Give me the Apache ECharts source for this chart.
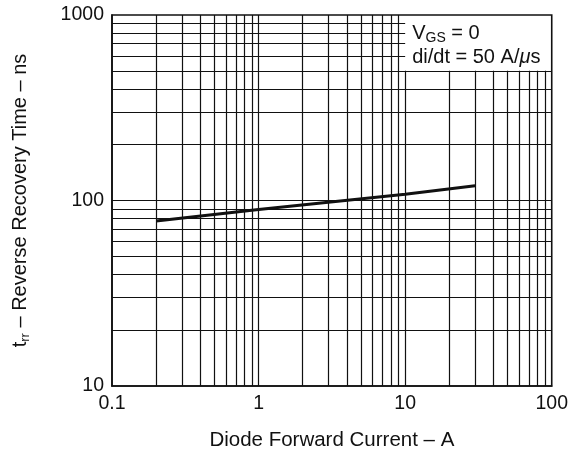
<!DOCTYPE html>
<html>
<head>
<meta charset="utf-8">
<script src="https://cdn.jsdelivr.net/npm/echarts@6/dist/echarts.min.js"></script>
<style>
html,body{margin:0;padding:0;background:#fff;}
#c{width:571px;height:456px;}
</style>
</head>
<body>
<div id="c"></div>
<script>
// Data (log-log)
var currentA = [0.2, 1, 10, 30];
var trrNs = [77.5, 89.5, 108, 120];
var xTickLabels = ['0.1', '1', '10', '100'];
var yTickLabels = ['10', '100', '1000'];
// Minor grid positions (log decades)
var xGridLow = [0.2,0.3,0.4,0.5,0.6,0.7,0.8,0.9,1,2,3,4,5,6,7,8,9];
var xGridHigh = [10,20,30,40,50,60,70,80,90];
var yGridFull = [20,30,40,50,60,70,80,90,100,200,300,400,500];
var yGridShort = [600,700,800,900];
// Condition note anchored at (10 A, 1000 ns)
var noteAnchor = [10, 1000];

var FONT = 'Liberation Sans, Arial, Helvetica, sans-serif';
var gridStyle = {color:'#111', width:1.2, type:'solid'};

var lines = [];
xGridLow.forEach(function(v){ lines.push([{coord:[v,10]},{coord:[v,1000]}]); });
xGridHigh.forEach(function(v){ lines.push([{coord:[v,10]},{coord:[v,500]}]); });
yGridFull.forEach(function(v){ lines.push([{coord:[0.1,v]},{coord:[100,v]}]); });
yGridShort.forEach(function(v){ lines.push([{coord:[0.1,v]},{coord:[10,v]}]); });

var chart = echarts.init(document.getElementById('c'), null, {renderer:'canvas'});
chart.setOption({
  backgroundColor:'#fff',
  animation:false,
  grid:{left:110, right:17, top:15, bottom:70, show:true, borderColor:'#111', borderWidth:1.6, backgroundColor:'transparent'},
  xAxis:{
    type:'log', logBase:10, min:0.1, max:100,
    name:'Diode Forward Current \u2013 A', nameLocation:'middle', nameGap:44,
    nameTextStyle:{fontFamily:FONT, fontSize:20.5, color:'#111'},
    axisLine:{show:true, lineStyle:{color:'#111', width:1.6}},
    axisTick:{show:false},
    splitLine:{show:false},
    axisLabel:{fontFamily:FONT, fontSize:19.5, color:'#111', margin:8,
      formatter:function(v){ var s = String(+v.toPrecision(3)); return xTickLabels.indexOf(s) >= 0 ? s : ''; }}
  },
  yAxis:{
    type:'log', logBase:10, min:10, max:1000,
    name:'t{sub|rr} \u2013 Reverse Recovery Time \u2013 ns', nameLocation:'middle', nameGap:80,
    nameTextStyle:{fontFamily:FONT, fontSize:20, color:'#111', lineHeight:24,
      rich:{sub:{fontFamily:FONT, fontSize:13, color:'#111', verticalAlign:'bottom', lineHeight:24}}},
    axisLine:{show:true, lineStyle:{color:'#111', width:1.6}},
    axisTick:{show:false},
    splitLine:{show:false},
    axisLabel:{fontFamily:FONT, fontSize:19.5, color:'#111', margin:8,
      formatter:function(v){ var s = String(+v.toPrecision(3)); return yTickLabels.indexOf(s) >= 0 ? s : ''; }}
  },
  series:[
    {
      type:'line', silent:true, symbol:'none', data:[],
      markLine:{silent:true, symbol:['none','none'], animation:false, label:{show:false},
        lineStyle:gridStyle, emphasis:{disabled:true}, data:lines}
    },
    {
      type:'line', symbol:'none', silent:true,
      lineStyle:{color:'#111', width:3},
      data: currentA.map(function(x,i){ return [x, trrNs[i]]; })
    }
  ]
});
var p = chart.convertToPixel({gridIndex:0}, noteAnchor);
chart.setOption({
  graphic:[{
    type:'text', left:p[0] + 7, top:p[1] + 6, silent:true,
    style:{
      text:'V{gs|GS} = 0\ndi/dt = 50 A/{it|\u03bc}s',
      fontFamily:FONT, fontSize:20, fill:'#111', lineHeight:24,
      rich:{gs:{fontFamily:FONT, fontSize:14, fill:'#111', lineHeight:24, verticalAlign:'bottom'},
            it:{fontFamily:FONT, fontSize:20, fontStyle:'italic', fill:'#111', lineHeight:24}}
    }
  }]
});
</script>
</body>
</html>
